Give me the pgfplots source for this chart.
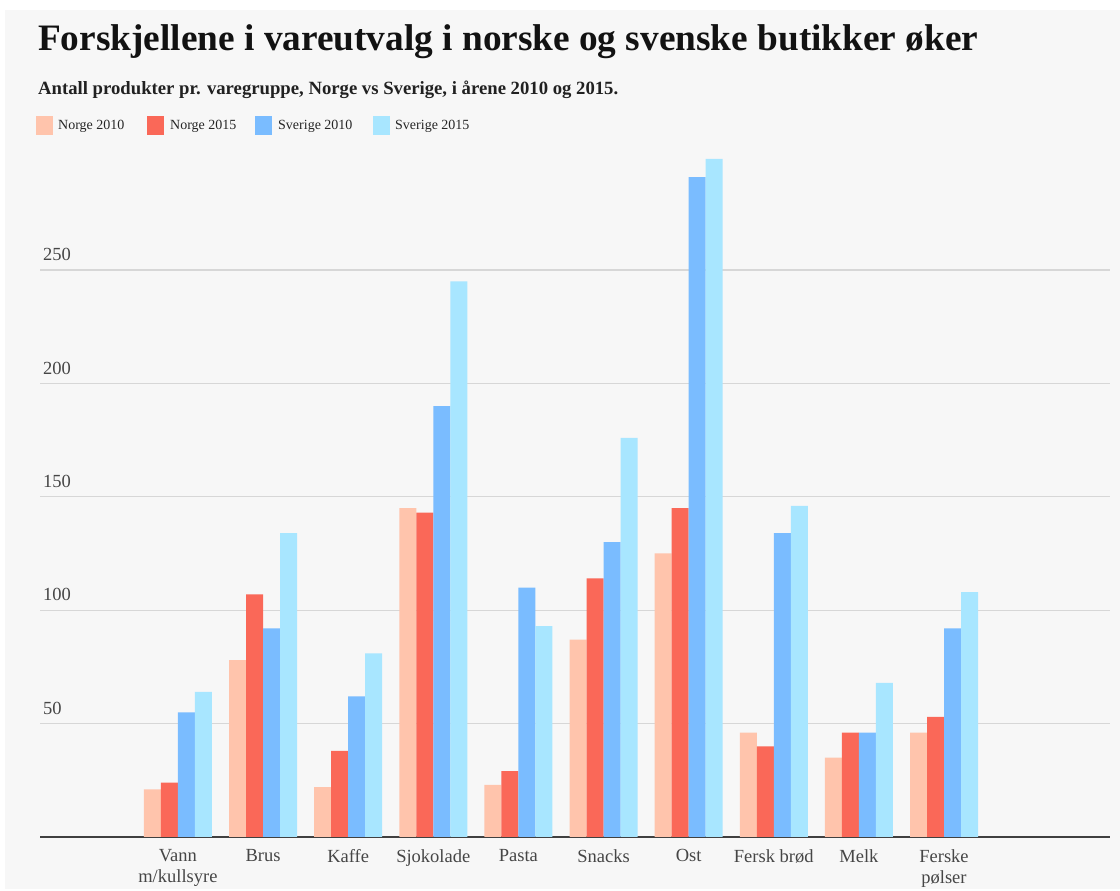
\documentclass[border=0pt]{standalone}
\usepackage{pgfplots}
\pgfplotsset{compat=1.18}
\usepackage{pgfplotstable}
\usepackage{fontspec}
\setmainfont{Liberation Serif}
\definecolor{bg}{RGB}{247,247,247}
\definecolor{nA}{RGB}{255,196,172}
\definecolor{nB}{RGB}{250,104,88}
\definecolor{sA}{RGB}{122,188,255}
\definecolor{sB}{RGB}{168,230,255}
\definecolor{gridc}{RGB}{215,215,215}
\definecolor{txt}{RGB}{70,70,70}
\pgfplotstableread{
x N10 N15 S10 S15
0 21 24 55 64
1 78 107 92 134
2 22 38 62 81
3 145 143 190 245
4 23 29 110 93
5 87 114 130 176
6 125 145 291 299
7 46 40 134 146
8 35 46 46 68
9 46 53 92 108
}\datatable
\begin{document}
\begin{tikzpicture}[x=1pt,y=1pt]
\fill[white] (0,0) rectangle (1120,889);
\fill[bg] (5,0) rectangle (1120,879);
\node[anchor=base west, inner sep=0pt, text=black!93] at (38,838) {\fontsize{37.3}{44}\selectfont\bfseries Forskjellene i vareutvalg i norske og svenske butikker øker};
\node[anchor=base west, inner sep=0pt, text=black!87] at (38,794) {\fontsize{18.7}{22}\selectfont\bfseries Antall produkter pr. varegruppe, Norge vs Sverige, i årene 2010 og 2015.};
\begin{axis}[
  at={(40pt,52pt)}, anchor=south west,
  scale only axis, width=1070pt, height=680.4pt,
  xmin=-1.62, xmax=10.95, ymin=0, ymax=300,
  ybar=0pt, bar width=17pt,
  axis x line*=bottom, axis y line*=left,
  x axis line style={draw=black!75, line width=1.2pt, -},
  y axis line style={draw=none},
  xtick=data,
  xticklabels={{Vann\\m/kullsyre},Brus,Kaffe,Sjokolade,Pasta,Snacks,Ost,{Fersk brød},Melk,{Ferske\\pølser}},
  xticklabel style={align=center, text=txt, font=\fontsize{18.5}{21}\selectfont, yshift=-9pt},
  major tick length=0pt,
  ytick={50,100,150,200,250},
  /pgf/number format/assume math mode=true,
  ymajorgrids, grid style={gridc, line width=1.3pt},
  yticklabel style={anchor=south west, text=txt, font=\fontsize{18.5}{21}\selectfont, inner sep=0pt, xshift=3pt, yshift=9pt},
  clip=false,
  every axis plot/.append style={draw=none},
]
\addplot[fill=nA] table[x=x,y=N10]{\datatable};
\addplot[fill=nB] table[x=x,y=N15]{\datatable};
\addplot[fill=sA] table[x=x,y=S10]{\datatable};
\addplot[fill=sB] table[x=x,y=S15]{\datatable};
\end{axis}
% legend
\fill[nA] (36,754) rectangle (53,773);
\node[anchor=base west, inner sep=0pt, text=black!85] at (58,759) {\fontsize{14}{16}\selectfont Norge 2010};
\fill[nB] (147,754) rectangle (164,773);
\node[anchor=base west, inner sep=0pt, text=black!85] at (170,759) {\fontsize{14}{16}\selectfont Norge 2015};
\fill[sA] (255,754) rectangle (272,773);
\node[anchor=base west, inner sep=0pt, text=black!85] at (278,759) {\fontsize{14}{16}\selectfont Sverige 2010};
\fill[sB] (373,754) rectangle (390,773);
\node[anchor=base west, inner sep=0pt, text=black!85] at (395,759) {\fontsize{14}{16}\selectfont Sverige 2015};
\end{tikzpicture}
\end{document}
